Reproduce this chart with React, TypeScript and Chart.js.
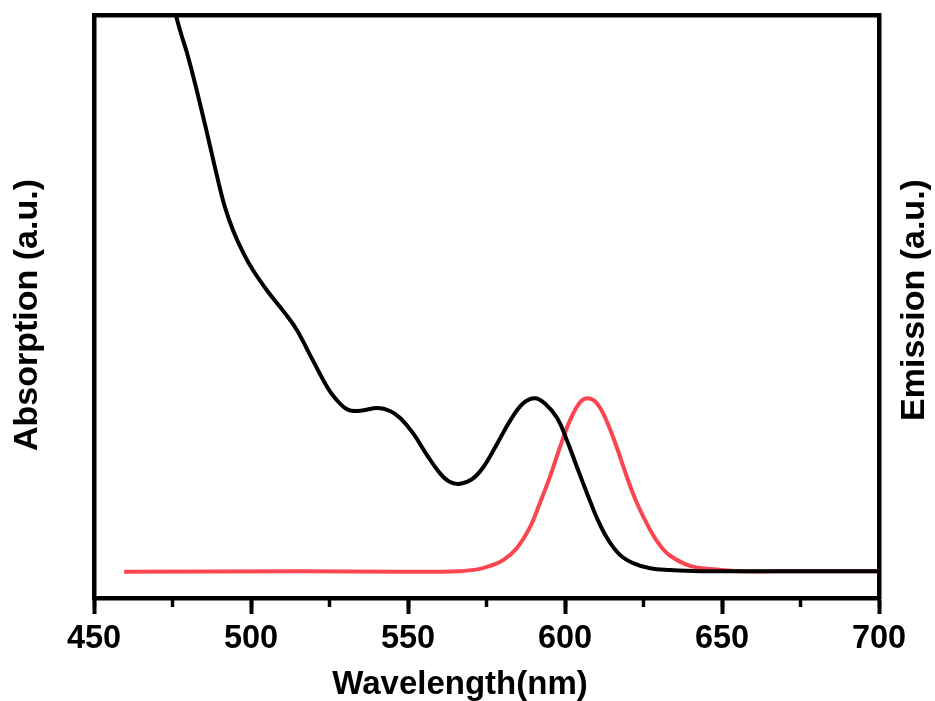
import { useEffect, useRef } from 'react';
import { Chart, registerables } from 'chart.js';

Chart.register(...registerables);

const absWavelength = [
  476.1, 477.7, 479.6, 482.2, 486.0, 489.5, 491.7, 494.3, 497.5, 500.6, 505.1,
  510.8, 514.6, 519.7, 524.5, 526.8, 530.6, 534.1, 540.4, 544.3, 547.5, 551.6, 556.1, 560.2,
  563.4, 566.6, 570.4, 573.9, 578.3, 582.5, 586.6, 590.4, 593.6,
  597.5, 600.6, 603.8, 607.0, 610.2, 613.4, 617.5, 621.7, 627.1, 633.4, 643.0, 662.1, 700.0,
];
const absValues = [
  100.0, 96.9, 93.6, 88.3, 79.8, 71.7, 67.1, 63.1, 59.3, 56.3, 52.8,
  48.9, 46.0, 40.8, 36.0, 34.3, 32.4, 32.1, 32.6, 32.1, 30.9, 28.3, 24.5, 21.4,
  19.9, 19.6, 20.4, 22.4, 26.4, 30.4, 33.4, 34.3, 33.4,
  30.9, 27.1, 22.5, 18.0, 13.7, 10.3, 7.4, 6.0, 5.1, 4.8, 4.6, 4.6, 4.6,
];

const emWavelength = [
  459.6, 515.6, 547.5, 566.6, 572.9, 576.1, 580.3, 584.7, 588.9, 592.0, 595.2, 598.4, 601.6,
  604.8, 607.3, 610.2, 613.4, 616.6, 619.7, 622.9, 627.1, 630.3, 633.4, 639.8, 646.2, 655.7,
  674.8, 700.0,
];
const emValues = [
  4.5, 4.6, 4.5, 4.6, 5.0, 5.5, 6.5, 8.6, 12.2, 16.3, 20.8, 25.9, 30.5,
  33.6, 34.3, 33.4, 30.2, 25.7, 20.8, 16.3, 11.7, 9.0, 7.3, 5.5, 5.0, 4.6,
  4.6, 4.6,
];

const FONT = '"Liberation Sans", Arial, sans-serif';

function drawCaption(ctx: CanvasRenderingContext2D, text: string, x: number, y: number, size: number, angle: number) {
  ctx.save();
  ctx.fillStyle = '#000';
  ctx.font = `bold ${size}px ${FONT}`;
  ctx.textAlign = 'center';
  ctx.textBaseline = 'middle';
  ctx.translate(x, y);
  ctx.rotate(angle);
  ctx.fillText(text, 0, 0);
  ctx.restore();
}

const captionsPlugin = {
  id: 'captions',
  afterDraw(chart: Chart) {
    const { ctx } = chart;
    drawCaption(ctx, 'Wavelength(nm)', 460, 685, 33, 0);
    drawCaption(ctx, 'Absorption (a.u.)', 28, 315, 34, -Math.PI / 2);
    drawCaption(ctx, 'Emission (a.u.)', 915, 300, 34, -Math.PI / 2);
  },
};

export default function App() {
  const canvasRef = useRef<HTMLCanvasElement>(null);

  useEffect(() => {
    if (!canvasRef.current) return;
    const frame = { display: true, color: '#000', width: 4.5 };

    const chart = new Chart(canvasRef.current, {
      type: 'line',
      data: {
        datasets: [
          {
            label: 'Absorption',
            data: absWavelength.map((x, i) => ({ x, y: absValues[i] })),
            borderColor: '#000',
            borderWidth: 4,
            pointRadius: 0,
            tension: 0.4,
          },
          {
            label: 'Emission',
            data: emWavelength.map((x, i) => ({ x, y: emValues[i] })),
            borderColor: '#f94650',
            borderWidth: 4,
            pointRadius: 0,
            tension: 0.4,
          },
        ],
      },
      options: {
        responsive: false,
        animation: false,
        layout: { padding: 0 },
        plugins: { legend: { display: false }, tooltip: { enabled: false } },
        scales: {
          x: {
            type: 'linear',
            position: 'bottom',
            min: 450,
            max: 700,
            afterFit: s => { s.height = 103; },
            border: frame,
            grid: { drawOnChartArea: false, tickLength: 16, tickWidth: 4, tickColor: '#000' },
            ticks: {
              stepSize: 50,
              padding: 6,
              color: '#000',
              maxRotation: 0,
              font: { family: FONT, size: 32.5, weight: 'bold' },
            },
          },
          // shorter minor ticks every 25 nm
          xMinor: {
            type: 'linear',
            axis: 'x',
            position: { y: 0 },
            min: 450,
            max: 700,
            border: { display: false },
            grid: { drawOnChartArea: false, tickLength: 9, tickWidth: 3.5, tickColor: '#000' },
            ticks: { stepSize: 25, callback: () => '' },
          },
          xTop: {
            type: 'linear',
            axis: 'x',
            position: 'top',
            min: 450,
            max: 700,
            afterFit: s => { s.height = 15.5; },
            border: frame,
            grid: { display: false },
            ticks: { display: false },
          },
          y: {
            type: 'linear',
            position: 'left',
            min: 0,
            max: 100,
            afterFit: s => { s.width = 94; },
            border: frame,
            grid: { display: false },
            ticks: { display: false },
          },
          yRight: {
            type: 'linear',
            position: 'right',
            min: 0,
            max: 100,
            afterFit: s => { s.width = 56; },
            border: frame,
            grid: { display: false },
            ticks: { display: false },
          },
        },
      },
      plugins: [captionsPlugin],
    });

    return () => chart.destroy();
  }, []);

  return (
    <div style={{ position: 'fixed', left: 0, top: 0, width: 935, height: 701, background: '#fff' }}>
      <canvas ref={canvasRef} width={935} height={701} style={{ display: 'block' }} />
    </div>
  );
}
